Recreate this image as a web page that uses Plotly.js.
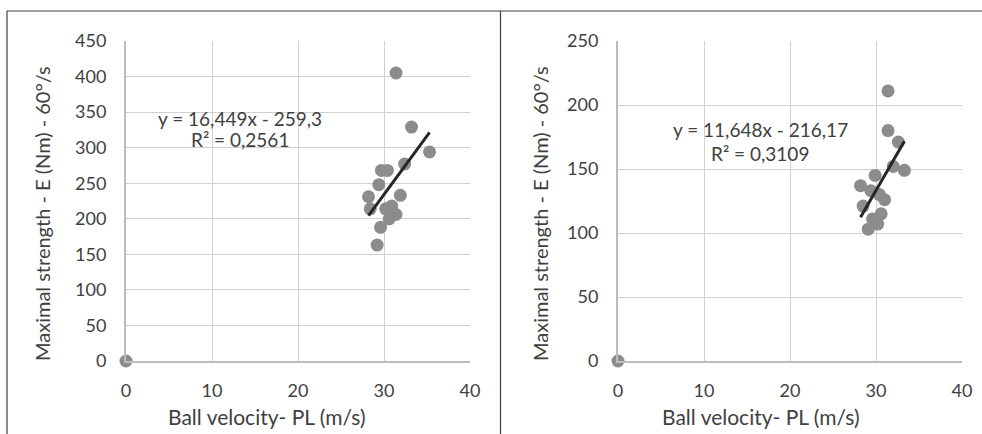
<!DOCTYPE html>
<html><head><meta charset="utf-8">
<script src="https://cdn.plot.ly/plotly-3.0.1.min.js"></script>
<style>html,body{margin:0;padding:0;background:#fff}</style></head>
<body>
<div id="chart" style="width:982px;height:434px"></div>
<script>
// Left panel: 60°/s strength vs ball velocity
const leftX = [0, 31.4, 33.2, 35.3, 32.4, 29.7, 30.4, 29.4, 28.2, 28.4, 31.9, 30.2, 30.9, 31.4, 30.6, 29.6, 29.2];
const leftY = [0, 405, 329, 294, 277, 268, 268, 248, 231, 214, 233, 214, 218, 206, 200, 188, 163];
const leftSlope = 16.449, leftIntercept = -259.3;
const leftEq = "y = 16,449x - 259,3", leftR2 = "R² = 0,2561";

// Right panel
const rightX = [0, 31.4, 31.4, 32.6, 32.0, 33.3, 28.2, 29.9, 29.4, 30.4, 31.0, 28.5, 30.6, 29.6, 30.2, 29.1];
const rightY = [0, 211, 180, 171, 152, 149, 137, 145, 133, 130, 126, 121, 115, 111, 107, 103];
const rightSlope = 11.648, rightIntercept = -216.17;
const rightEq = "y = 11,648x - 216,17", rightR2 = "R² = 0,3109";

const xTitle = "Ball velocity- PL (m/s)";
const yTitle = "Maximal strength - E (Nm) - 60°/s";
const xTicks = [0, 10, 20, 30, 40];

const W = 982, H = 434;
const px = x => x / W, py = y => 1 - y / H;
const FONT = "Lato, 'Open Sans', sans-serif";
const TXT = "#404040";

function trend(xs, m, b) {
  const v = xs.filter(x => x > 0);
  const lo = Math.min(...v), hi = Math.max(...v);
  return {x: [lo, hi], y: [m * lo + b, m * hi + b]};
}
const tl = trend(leftX, leftSlope, leftIntercept);
const tr = trend(rightX, rightSlope, rightIntercept);

const mk = {color: "#8c8c8c", size: 13};
const data = [
  {x: leftX, y: leftY, type: "scatter", mode: "markers", marker: mk, xaxis: "x", yaxis: "y", cliponaxis: false},
  {x: tl.x, y: tl.y, type: "scatter", mode: "lines", line: {color: "#262626", width: 3}, xaxis: "x", yaxis: "y"},
  {x: rightX, y: rightY, type: "scatter", mode: "markers", marker: mk, xaxis: "x2", yaxis: "y2", cliponaxis: false},
  {x: tr.x, y: tr.y, type: "scatter", mode: "lines", line: {color: "#262626", width: 3}, xaxis: "x2", yaxis: "y2"}
];

const xAx = (dom, anchor) => ({
  domain: dom, anchor: anchor, range: [0, 40], tickvals: xTicks, showgrid: true,
  gridcolor: "#d0d0d0", gridwidth: 1, showline: true, linecolor: "#bcbcbc", linewidth: 2,
  zeroline: false, ticks: "", ticklabelstandoff: 12, automargin: false,
  tickfont: {family: FONT, size: 18, color: TXT}, fixedrange: true
});
const yAx = (range, dtick, anchor) => ({
  domain: [py(361), py(41)], anchor: anchor, range: range, dtick: dtick, showgrid: true,
  gridcolor: "#d0d0d0", gridwidth: 1, showline: true, linecolor: "#bcbcbc", linewidth: 2,
  zeroline: false, ticks: "", ticklabelstandoff: 14, automargin: false,
  tickfont: {family: FONT, size: 18, color: TXT}, fixedrange: true
});

const ann = (text, x, y, size, opts = {}) => Object.assign({
  text: text, xref: "paper", yref: "paper", x: px(x), y: py(y), showarrow: false,
  xanchor: "center", yanchor: "middle", font: {family: FONT, size: size, color: TXT}
}, opts);

const lineS = (x0, y0, x1, y1) => ({type: "line", xref: "paper", yref: "paper",
  x0: px(x0), y0: py(y0), x1: px(x1), y1: py(y1), line: {color: "#404040", width: 1.2}});

const layout = {
  width: W, height: H, margin: {l: 0, r: 0, t: 0, b: 0},
  paper_bgcolor: "#fff", plot_bgcolor: "#fff", showlegend: false,
  xaxis: xAx([px(126), px(470)], "y"),
  yaxis: yAx([0, 450], 50, "x"),
  xaxis2: xAx([px(618), px(962)], "y2"),
  yaxis2: yAx([0, 250], 50, "x2"),
  annotations: [
    ann(leftEq, 240, 118, 19), ann(leftR2, 240, 140, 19),
    ann(rightEq, 760, 129, 19), ann(rightR2, 760, 153, 19),
    ann(xTitle, 267, 416, 21), ann(xTitle, 761, 416, 21),
    ann(yTitle, 42, 214, 20, {textangle: -90}), ann(yTitle, 540, 214, 20, {textangle: -90})
  ],
  shapes: [lineS(7, 11, 982, 11), lineS(7, 11, 7, 434), lineS(500.5, 11, 500.5, 434)]
};

Plotly.newPlot("chart", data, layout, {staticPlot: true, displayModeBar: false});
</script>
</body></html>
